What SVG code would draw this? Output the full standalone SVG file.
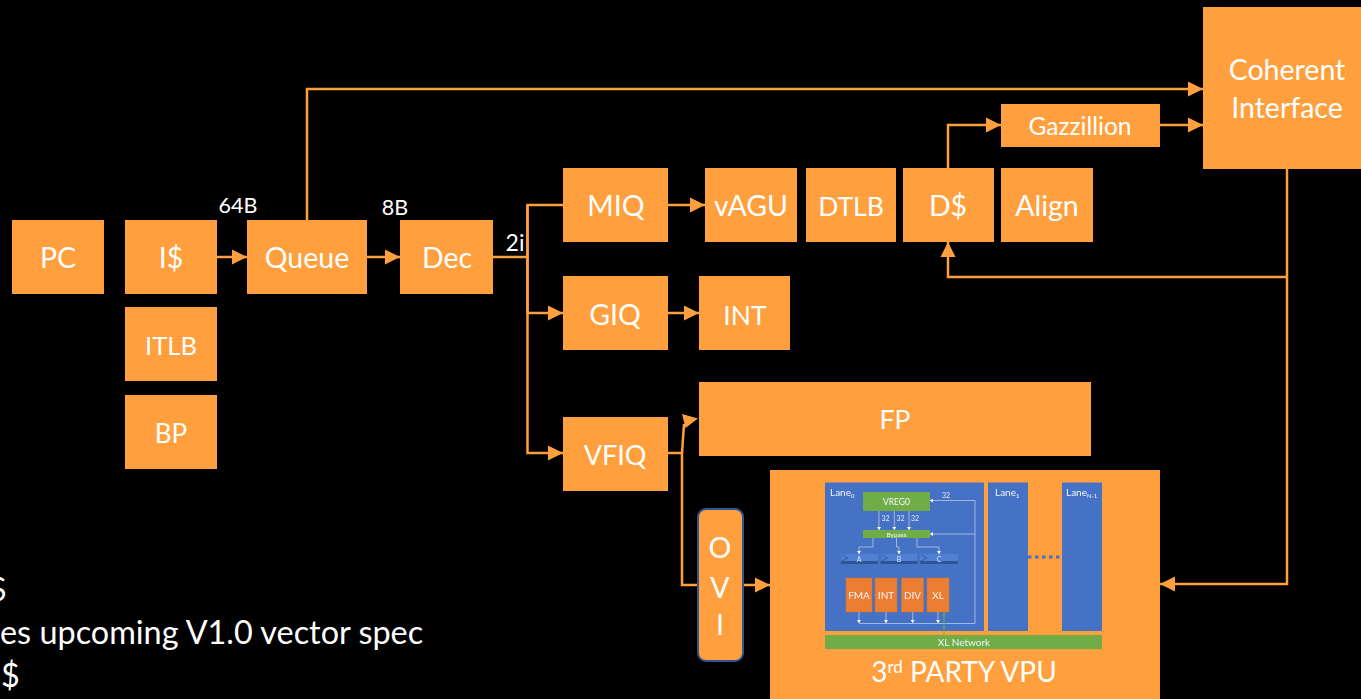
<svg xmlns="http://www.w3.org/2000/svg" width="1361" height="699" viewBox="0 0 1361 699">
<style>
text{font-family:Lato,"Open Sans","Liberation Sans",sans-serif;fill:#fff;text-anchor:middle}
.n{fill:#ff9f3d}
.t{font-size:28.500px}
.c{fill:none;stroke:#ff9f3d;stroke-width:2.5}
.a{marker-end:url(#ah)}
.lane{fill:#4472c4}
.g{fill:#70ad47}
.u{fill:#ed7d31;stroke:#d0762f;stroke-width:.5}
.i{fill:none;stroke:#c9d6ee;stroke-width:.7}
.ia{marker-end:url(#wh)}
.chev{fill:none;stroke:#2f5597;stroke-width:.7}
.s{font-size:7px;fill:#dfe7f5}
.m{font-size:10px;fill:#f3f6fb}
.note{font-size:32.400px;text-anchor:start}
.lb{font-size:21.500px}
</style>
<defs>
<marker id="ah" markerUnits="userSpaceOnUse" markerWidth="16" markerHeight="16" refX="15" refY="8" orient="auto"><path d="M0 0.5L15 8L0 15.5Z" fill="#ff9f3d"/></marker>
<marker id="wh" markerUnits="userSpaceOnUse" markerWidth="4" markerHeight="4" refX="3" refY="2" orient="auto"><path d="M0 0L3 2L0 4Z" fill="#fff"/></marker>
<filter id="soft" x="-5%" y="-5%" width="110%" height="110%"><feGaussianBlur stdDeviation="0.45"/></filter>
</defs>
<rect width="1361" height="699" fill="#000"/>
<g id="notes">
<text class="note" x="-12" y="601">$</text>
<text class="note" x="0" y="644">es upcoming V1.0 vector spec</text>
<text class="note" x="1" y="687">$</text>
<text class="lb" x="238" y="213">64B</text>
<text class="lb" x="395" y="215">8B</text>
<text class="lb" x="515" y="251" style="font-size:23px">2i</text>
</g>
<g id="connectors">
<path class="c a" d="M217 257H247"/>
<path class="c a" d="M367 257H400"/>
<path class="c a" d="M307 220V89H1203"/>
<path class="c" d="M493 257H527.500"/>
<path class="c a" d="M563 205H527.500V313H563"/>
<path class="c a" d="M527.500 205V453H563"/>
<path class="c a" d="M668 205H705"/>
<path class="c a" d="M668 313H699"/>
<path class="c a" d="M948 168V125H1001"/>
<path class="c a" d="M1160 125H1203"/>
<path class="c a" d="M1287 169V584H1160"/>
<path class="c a" d="M1287 277H948V242"/>
<path class="c" d="M668 453H682V585H698"/>
<path class="c" d="M682 453L684 424"/>
<path d="M698 418.500L682 414L685.500 428Z" fill="#ff9f3d"/>
<path class="c a" d="M743 585H770"/>
</g>
<g id="pc"><rect class="n" x="12" y="220" width="92" height="74"/><text class="t" x="58" y="268">PC</text></g>
<g id="icache"><rect class="n" x="125" y="220" width="92" height="74"/><text class="t" x="171" y="268">I$</text></g>
<g id="itlb"><rect class="n" x="125" y="307" width="92" height="74"/><text class="t" x="171" y="355" style="font-size:25.500px">ITLB</text></g>
<g id="bp"><rect class="n" x="125" y="395" width="92" height="74"/><text class="t" x="171" y="443" style="font-size:26px">BP</text></g>
<g id="queue"><rect class="n" x="247" y="220" width="120" height="74"/><text class="t" x="307" y="268">Queue</text></g>
<g id="dec"><rect class="n" x="400" y="220" width="93" height="74"/><text class="t" x="447" y="268">Dec</text></g>
<g id="miq"><rect class="n" x="563" y="168" width="105" height="74"/><text class="t" x="616" y="216">MIQ</text></g>
<g id="giq"><rect class="n" x="563" y="276" width="105" height="74"/><text class="t" x="615" y="325">GIQ</text></g>
<g id="vfiq"><rect class="n" x="563" y="417" width="105" height="74"/><text class="t" x="615" y="465" style="font-size:27px">VFIQ</text></g>
<g id="vagu"><rect class="n" x="705" y="168" width="92" height="74"/><text class="t" x="751" y="216">vAGU</text></g>
<g id="dtlb"><rect class="n" x="806" y="168" width="90" height="74"/><text class="t" x="851" y="216" style="font-size:26.500px">DTLB</text></g>
<g id="dcache"><rect class="n" x="903" y="168" width="91" height="74"/><text class="t" x="948" y="216">D$</text></g>
<g id="align"><rect class="n" x="1001" y="168" width="92" height="74"/><text class="t" x="1047" y="216">Align</text></g>
<g id="gazzillion"><rect class="n" x="1001" y="104" width="159" height="43"/><text x="1080" y="135" style="font-size:24.500px">Gazzillion</text></g>
<g id="coherent"><rect class="n" x="1203" y="7" width="158" height="162"/><text class="t" x="1287" y="80">Coherent</text><text class="t" x="1287" y="118">Interface</text></g>
<g id="int"><rect class="n" x="699" y="276" width="91" height="74"/><text class="t" x="745" y="325" style="font-size:26.500px">INT</text></g>
<g id="fp"><rect class="n" x="699" y="382" width="392" height="74"/><text x="895" y="429" style="font-size:26.500px">FP</text></g>
<g id="ovi"><rect class="n" x="698" y="509" width="45" height="152" rx="8" stroke="#2f5597" stroke-width="2"/><text class="t" x="720" y="558">O</text><text class="t" x="720" y="598">V</text><text class="t" x="720" y="635">I</text></g>
<g id="vpu">
<rect class="n" x="770" y="470" width="390" height="229"/>
<g filter="url(#soft)">
<rect class="lane" x="825" y="482.500" width="159" height="148.500"/>
<rect class="lane" x="988" y="482.500" width="40" height="148.500"/>
<rect class="lane" x="1062" y="482.500" width="40" height="148.500"/>
<path d="M1028 557H1062" fill="none" stroke="#4472c4" stroke-width="3" stroke-dasharray="3.500 3.500"/>
<rect class="g" x="825" y="635" width="277" height="14"/>
<text class="m" x="964" y="646">XL Network</text>
<text class="m" x="830" y="496" style="text-anchor:start">Lane<tspan dy="2" font-size="6">0</tspan></text>
<text class="m" x="995" y="496" style="text-anchor:start">Lane<tspan dy="2" font-size="6">1</tspan></text>
<text class="m" x="1066" y="496" style="text-anchor:start">Lane<tspan dy="2" font-size="6">N-1</tspan></text>
<rect class="g" x="863" y="492" width="67" height="19"/>
<text class="m" x="896.500" y="505" style="font-size:8.500px">VREG0</text>
<rect class="g" x="863" y="530" width="67" height="8"/>
<text class="m" x="896.500" y="537" style="font-size:6.500px">Bypass</text>
<path class="i ia" d="M879 511V530"/><path class="i ia" d="M894.300 511V530"/><path class="i ia" d="M909 511V530"/>
<text class="s" x="885.500" y="521">32</text><text class="s" x="900.500" y="521">32</text><text class="s" x="915" y="521">32</text>
<text class="s" x="946" y="497.500">32</text>
<path class="i ia" d="M873 538V547H859V554"/><path class="i ia" d="M896.500 538V547H899V554"/><path class="i ia" d="M917 538V547H939V554"/>
<g id="regs">
<rect x="841" y="554" width="37" height="10" rx="1" fill="#2c5596"/><rect x="841" y="554" width="37" height="7" fill="#4f80d4"/><path class="chev" d="M842 555L848 558L842 561"/>
<rect x="880.500" y="554" width="37" height="10" rx="1" fill="#2c5596"/><rect x="880.500" y="554" width="37" height="7" fill="#4f80d4"/><path class="chev" d="M881.500 555L887.500 558L881.500 561"/>
<rect x="920" y="554" width="38" height="10" rx="1" fill="#2c5596"/><rect x="920" y="554" width="38" height="7" fill="#4f80d4"/><path class="chev" d="M921 555L927 558L921 561"/>
<text class="s" x="859" y="562">A</text><text class="s" x="899" y="562">B</text><text class="s" x="939" y="562">C</text>
</g>
<rect class="u" x="846" y="578" width="26" height="34"/><text class="m" x="859" y="599">FMA</text>
<rect class="u" x="875" y="578" width="22" height="34"/><text class="m" x="886" y="599">INT</text>
<rect class="u" x="901.500" y="578" width="22" height="34"/><text class="m" x="912.500" y="599">DIV</text>
<rect class="u" x="927" y="578" width="22" height="34"/><text class="m" x="938" y="599">XL</text>
<path class="i ia" d="M859 612V623"/><path class="i ia" d="M886 612V623"/><path class="i ia" d="M912.700 612V623"/><path class="i ia" d="M938 612V623"/>
<path class="i" d="M859 623.500H975V500.500"/>
<path class="i ia" d="M975 500.500H930"/><path class="i ia" d="M975 534H930"/>
<path d="M944 613V635" stroke="#70ad47" stroke-width="1" fill="none"/><path d="M942.300 615.500L944 612L945.700 615.500Z" fill="#70ad47"/>
</g>
<text x="964" y="682" style="font-size:28px">3<tspan dy="-9" font-size="17">rd</tspan><tspan dy="9"> PARTY VPU</tspan></text>
</g>
</svg>
